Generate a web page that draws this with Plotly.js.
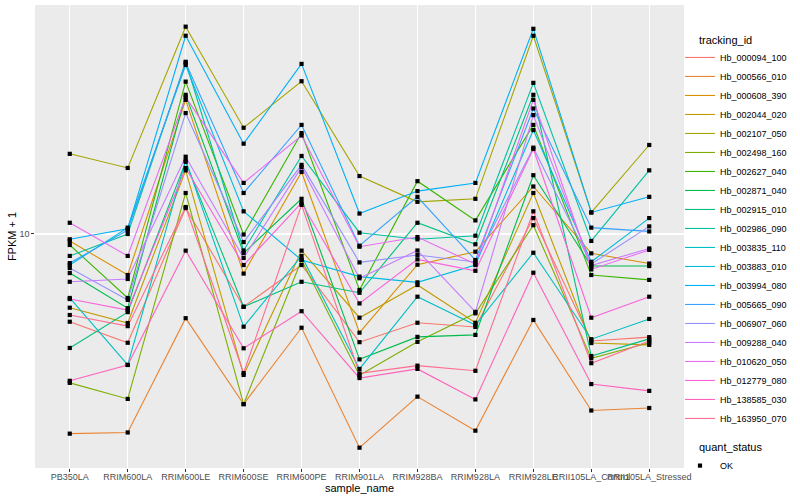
<!DOCTYPE html>
<html><head><meta charset="utf-8">
<script src="https://cdn.plot.ly/plotly-3.0.1.min.js"></script>
<style>html,body{margin:0;padding:0;background:#fff}#chart{width:800px;height:500px}</style>
</head><body><div id="chart"></div>
<script>
const samples = ["PB350LA","RRIM600LA","RRIM600LE","RRIM600SE","RRIM600PE","RRIM901LA","RRIM928BA","RRIM928LA","RRIM928LE","RRII105LA_Control","RRII105LA_Stressed"];
const trackingIds = ["Hb_000094_100","Hb_000566_010","Hb_000608_390","Hb_002044_020","Hb_002107_050","Hb_002498_160","Hb_002627_040","Hb_002871_040","Hb_002915_010","Hb_002986_090","Hb_003835_110","Hb_003883_010","Hb_003994_080","Hb_005665_090","Hb_006907_060","Hb_009288_040","Hb_010620_050","Hb_012779_080","Hb_138585_030","Hb_163950_070"];
const colors = ["#F8766D","#EA8331","#D89000","#C09B00","#A3A500","#7CAE00","#39B600","#00BB4E","#00BF7D","#00C1A3","#00BFC4","#00BAE0","#00B0F6","#35A2FF","#9590FF","#C77CFF","#E76BF3","#FA62DB","#FF62BC","#FF6C91"];
const quantStatus = "OK";

// FPKM + 1 per sample, one array per tracking_id
const Hb_000094_100 = [5.10, 4.34, 12.2, 5.72, 7.88, 4.36, 5.06, 4.90, 11.3, 4.40, 4.53];
const Hb_000566_010 = [2.16, 2.18, 5.24, 2.71, 4.87, 1.94, 2.87, 2.21, 5.17, 2.58, 2.63];
const Hb_000608_390 = [9.48, 7.30, 28.0, 7.38, 16.1, 4.69, 7.90, 8.73, 14.4, 8.62, 7.97];
const Hb_002044_020 = [5.68, 5.05, 16.3, 3.39, 8.80, 5.26, 6.76, 5.06, 13.7, 4.33, 4.27];
const Hb_002107_050 = [18.5, 16.6, 49.1, 22.6, 32.3, 15.6, 12.8, 13.1, 45.8, 11.8, 19.8];
const Hb_002498_160 = [3.19, 2.82, 13.7, 2.71, 8.19, 3.38, 4.37, 5.44, 10.7, 3.85, 4.34];
const Hb_002627_040 = [9.19, 6.12, 32.2, 9.96, 21.7, 6.51, 15.0, 11.1, 23.1, 7.30, 7.03];
const Hb_002871_040 = [7.41, 5.66, 29.1, 8.64, 13.1, 3.82, 4.54, 4.61, 15.7, 7.82, 7.82];
const Hb_002915_010 = [4.17, 5.49, 17.4, 5.72, 6.93, 6.37, 10.9, 9.24, 29.1, 3.92, 4.47];
const Hb_002986_090 = [8.45, 10.0, 37.5, 8.81, 18.2, 10.1, 9.60, 9.87, 31.9, 9.48, 16.3];
const Hb_003835_110 = [6.12, 3.66, 17.6, 4.91, 8.45, 3.55, 6.18, 4.97, 8.66, 4.46, 5.21];
const Hb_003883_010 = [7.88, 10.5, 36.6, 11.9, 8.19, 7.21, 6.90, 7.88, 22.2, 8.08, 11.3];
const Hb_003994_080 = [9.60, 10.4, 45.8, 20.0, 36.9, 11.7, 13.9, 14.8, 48.3, 11.8, 13.3];
const Hb_005665_090 = [8.00, 10.3, 37.2, 13.7, 23.1, 9.14, 13.3, 8.19, 26.2, 10.5, 10.2];
const Hb_006907_060 = [7.70, 6.03, 25.3, 9.40, 17.0, 8.04, 8.51, 8.07, 19.4, 7.94, 10.6];
const Hb_009288_040 = [6.93, 7.08, 18.1, 8.32, 16.7, 7.12, 8.81, 5.50, 24.9, 7.85, 8.95];
const Hb_010620_050 = [10.9, 8.45, 28.6, 14.8, 21.3, 9.07, 9.77, 7.94, 28.0, 7.62, 8.85];
const Hb_012779_080 = [6.07, 5.58, 16.6, 7.88, 12.7, 5.87, 8.23, 7.54, 19.2, 5.26, 6.18];
const Hb_138585_030 = [3.24, 3.66, 8.80, 4.16, 5.53, 3.31, 3.55, 2.81, 7.43, 3.16, 3.00];
const Hb_163950_070 = [5.37, 4.93, 12.3, 3.44, 12.5, 3.43, 3.64, 3.50, 11.9, 3.71, 4.40];

const seriesValues = [Hb_000094_100, Hb_000566_010, Hb_000608_390, Hb_002044_020, Hb_002107_050,
  Hb_002498_160, Hb_002627_040, Hb_002871_040, Hb_002915_010, Hb_002986_090, Hb_003835_110,
  Hb_003883_010, Hb_003994_080, Hb_005665_090, Hb_006907_060, Hb_009288_040, Hb_010620_050,
  Hb_012779_080, Hb_138585_030, Hb_163950_070];

const FONT = '"Liberation Sans", Arial, Helvetica, sans-serif';
const traces = [];
seriesValues.forEach((vals, i) => {
  traces.push({
    type: 'scatter', mode: 'lines', x: samples, y: vals,
    name: trackingIds[i], legend: 'legend',
    line: {color: colors[i], width: 1.1}
  });
});
const px = [], py = [];
seriesValues.forEach(vals => vals.forEach((v, j) => { px.push(samples[j]); py.push(v); }));
traces.push({
  type: 'scatter', mode: 'markers', x: px, y: py, name: quantStatus, legend: 'legend2',
  marker: {symbol: 'square', size: 4.2, color: '#000000'}
});

const layout = {
  width: 800, height: 500,
  margin: {l: 35, r: 116, t: 5, b: 32, pad: 0},
  paper_bgcolor: '#FFFFFF', plot_bgcolor: '#EBEBEB',
  font: {family: FONT, size: 9, color: '#000000'},
  showlegend: true,
  xaxis: {
    type: 'category', categoryorder: 'array', categoryarray: samples,
    range: [-0.6, 10.6], showgrid: true, gridcolor: '#FFFFFF', gridwidth: 1.1,
    zeroline: false, showline: false, ticks: 'outside', ticklen: 2.75, tickcolor: '#333333',
    tickangle: 0, ticklabelstandoff: -3, tickfont: {family: FONT, size: 9, color: '#4D4D4D'},
    title: {text: 'sample_name', font: {family: FONT, size: 11, color: '#000000'}, standoff: 0},
    fixedrange: true
  },
  yaxis: {
    type: 'log', range: [0.22, 1.7633], tickvals: [10], ticktext: ['10'],
    showgrid: true, gridcolor: '#FFFFFF', gridwidth: 1.1, zeroline: false, showline: false,
    ticks: 'outside', ticklen: 2.75, tickcolor: '#333333',
    tickfont: {family: FONT, size: 9, color: '#4D4D4D'},
    title: {text: 'FPKM + 1', font: {family: FONT, size: 11, color: '#000000'}, standoff: 0},
    fixedrange: true
  },
  legend: {
    x: 0.9938, xanchor: 'left', y: 0.918, yanchor: 'top',
    font: {family: FONT, size: 9, color: '#000000'},
    itemwidth: 30, tracegroupgap: 0, bgcolor: 'rgba(0,0,0,0)'
  },
  legend2: {
    x: 0.9938, xanchor: 'left', y: 0.0365, yanchor: 'top',
    font: {family: FONT, size: 9, color: '#000000'},
    itemwidth: 30, bgcolor: 'rgba(0,0,0,0)'
  },
  annotations: [
    {text: 'tracking_id', xref: 'paper', yref: 'paper', x: (697 - 35) / 649, y: (468 - 40) / 463,
     xanchor: 'left', yanchor: 'middle', showarrow: false,
     font: {family: FONT, size: 11, color: '#000000'}},
    {text: 'quant_status', xref: 'paper', yref: 'paper', x: (697 - 35) / 649, y: (468 - 447) / 463,
     xanchor: 'left', yanchor: 'middle', showarrow: false,
     font: {family: FONT, size: 11, color: '#000000'}}
  ]
};
Plotly.newPlot('chart', traces, layout, {staticPlot: true, displayModeBar: false});
</script></body></html>
